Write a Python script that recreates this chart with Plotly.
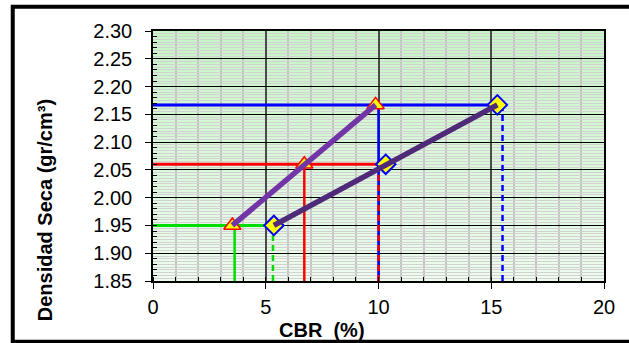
import numpy as np
import plotly.graph_objects as go

# Dry density levels (gr/cm3) and CBR readings (%)
densidad = [1.95, 2.06, 2.167]
cbr_triangulo = [3.52, 6.71, 9.87]
cbr_rombo = [5.36, 10.32, 15.27]
cbr_vertical_solida = [3.62, 6.71, 10.0]
cbr_vertical_discontinua = [5.32, 10.0, 15.5]
colores_nivel = ["#00DD00", "#FF0000", "#0000FF"]

x_rango = [0, 20]
y_rango = [1.85, 2.30]
x_ticks = [0, 5, 10, 15, 20]
y_ticks = [1.85, 1.90, 1.95, 2.00, 2.05, 2.10, 2.15, 2.20, 2.25, 2.30]

FONT = "Arial, Liberation Sans, sans-serif"

fig = go.Figure()

# horizontal guides from the axis to the second curve
for d, x_fin, c in zip(densidad, cbr_rombo, colores_nivel):
    fig.add_trace(go.Scatter(x=[x_rango[0], x_fin], y=[d, d], mode="lines",
                             line=dict(color=c, width=3), hoverinfo="skip"))
# solid drop lines
for d, xv, c in zip(densidad, cbr_vertical_solida, colores_nivel):
    fig.add_trace(go.Scatter(x=[xv, xv], y=[y_rango[0], d], mode="lines",
                             line=dict(color=c, width=2.5), hoverinfo="skip"))
# dashed drop lines
for d, xv, c in zip(densidad, cbr_vertical_discontinua, colores_nivel):
    fig.add_trace(go.Scatter(x=[xv, xv], y=[y_rango[0], d], mode="lines",
                             line=dict(color=c, width=2.5, dash="6px,4px"),
                             hoverinfo="skip"))

# markers
fig.add_trace(go.Scatter(x=cbr_triangulo, y=densidad, mode="markers",
                         marker=dict(symbol="triangle-up", size=15, color="#FFFF00",
                                     line=dict(color="#FF0000", width=1.5))))
fig.add_trace(go.Scatter(x=cbr_rombo, y=densidad, mode="markers",
                         marker=dict(symbol="diamond", size=15, color="#FFFF00",
                                     line=dict(color="#0000FF", width=2))))
# curves
fig.add_trace(go.Scatter(x=cbr_triangulo, y=densidad, mode="lines",
                         line=dict(color="#7234A6", width=5.5)))
fig.add_trace(go.Scatter(x=cbr_rombo, y=densidad, mode="lines",
                         line=dict(color="#4E2A78", width=5.5)))

# secondary axis only for the inner minor ticks every 0.01
fig.add_trace(go.Scatter(x=[None], y=[None], yaxis="y2", showlegend=False))

# vertical green gradient behind the grid
n = 60
top = np.array([198, 245, 198])
bot = np.array([238, 252, 238])
shapes = []
for i in range(n):
    f = i / (n - 1)
    c = (bot + (top - bot) * f).astype(int)
    shapes.append(dict(type="rect", xref="paper", yref="paper",
                       x0=0, x1=1, y0=i / n, y1=(i + 1) / n + 0.002,
                       fillcolor=f"rgb({c[0]},{c[1]},{c[2]})",
                       line=dict(width=0), layer="below"))
# outer frame
shapes.append(dict(type="rect", xref="paper", yref="paper",
                   x0=-0.311, x1=1.2, y0=-0.243, y1=1.097,
                   line=dict(color="black", width=4), layer="above"))

fig.update_layout(
    width=629, height=343,
    margin=dict(l=153, r=25, t=31, b=62),
    paper_bgcolor="white",
    plot_bgcolor="rgba(0,0,0,0)",
    showlegend=False,
    shapes=shapes,
    font=dict(family=FONT, color="black"),
    xaxis=dict(
        range=x_rango, tickvals=x_ticks, ticks="outside", ticklen=6,
        tickcolor="black", tickwidth=1,
        tickfont=dict(size=20, family=FONT), ticklabelstandoff=1,
        showgrid=True, gridcolor="#4A4A4A", gridwidth=1.5,
        showline=True, linecolor="black", linewidth=1.5, mirror=True,
        zeroline=False,
        minor=dict(dtick=1, ticks="inside", ticklen=4, tickcolor="black",
                   showgrid=True, gridcolor="#C4C4C4", gridwidth=1.5),
    ),
    yaxis=dict(
        range=y_rango, tickvals=y_ticks, tickformat=".2f",
        ticks="outside", ticklen=6, tickcolor="black",
        tickfont=dict(size=20, family=FONT), ticklabelstandoff=9,
        showgrid=True, gridcolor="black", gridwidth=1,
        showline=True, linecolor="black", linewidth=1.5, mirror=True,
        zeroline=False,
        minor=dict(dtick=0.005, ticks="", showgrid=True,
                   gridcolor="#D2D2D2", gridwidth=1),
    ),
    yaxis2=dict(
        range=y_rango, overlaying="y", side="left", showgrid=False,
        zeroline=False, showline=False, showticklabels=False,
        tick0=1.85, dtick=0.01, ticks="inside", ticklen=4, tickcolor="black",
    ),
    annotations=[
        dict(text="<b>CBR  (%)</b>", xref="paper", yref="paper",
             x=0.375, y=-0.196, xanchor="center", yanchor="middle",
             showarrow=False, font=dict(size=20, family=FONT)),
        dict(text="<b>Densidad Seca (gr/cm³)</b>", xref="paper", yref="paper",
             x=-0.239, y=0.284, xanchor="center", yanchor="middle",
             textangle=-90, showarrow=False, font=dict(size=20, family=FONT)),
    ],
)

fig.write_html("out.html")
